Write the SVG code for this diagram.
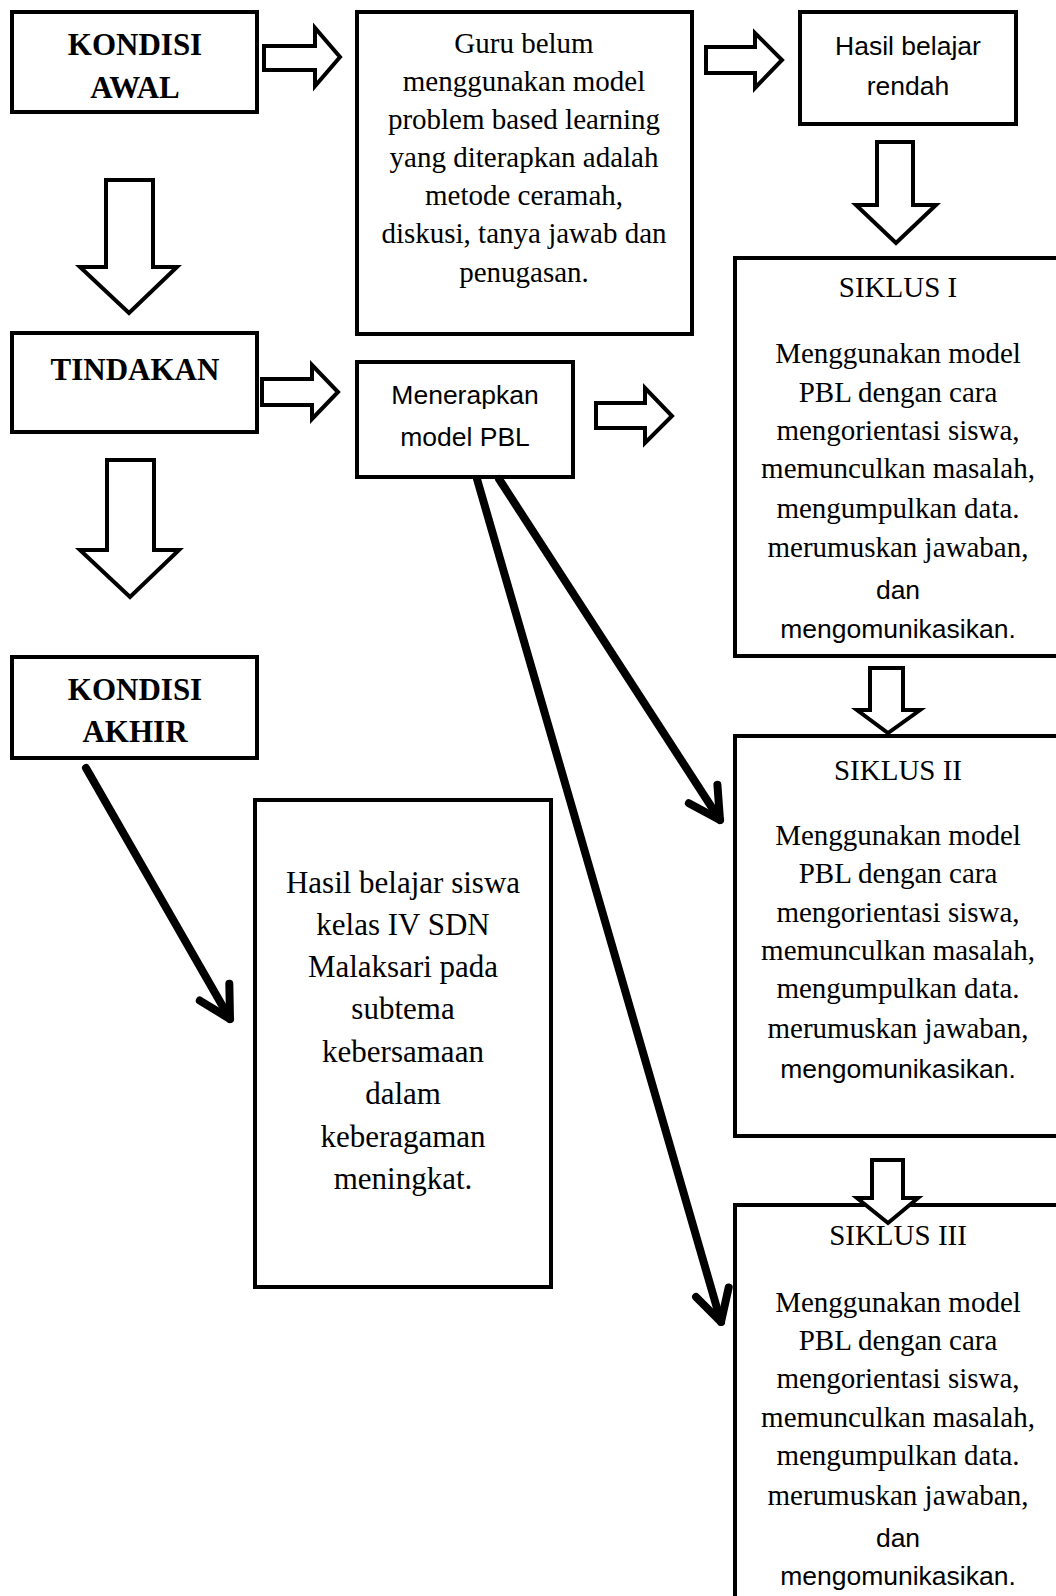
<svg xmlns="http://www.w3.org/2000/svg" width="1056" height="1596" viewBox="0 0 1056 1596">
<style>
.box{fill:#fff;stroke:#000;stroke-width:4}
.blk{fill:#fff;stroke:#000;stroke-width:4;stroke-linejoin:miter}
.ln{fill:none;stroke:#000;stroke-width:8;stroke-linecap:round}
.tb{font-family:"Liberation Serif","Times New Roman",serif;font-weight:bold;font-size:31px;text-anchor:middle;fill:#000}
.t{font-family:"Liberation Serif","Times New Roman",serif;font-size:29px;text-anchor:middle;fill:#000}
.t30{font-family:"Liberation Serif","Times New Roman",serif;font-size:31px;text-anchor:middle;fill:#000}
.s{font-family:"Liberation Sans",Arial,sans-serif;font-size:26.5px;text-anchor:middle;fill:#000}
</style>
<defs>
<marker id="chev" markerUnits="userSpaceOnUse" markerWidth="60" markerHeight="60" refX="0" refY="0" orient="auto" overflow="visible">
<path d="M-31,-17 L0,0 L-31,17" fill="none" stroke="#000" stroke-width="8" stroke-linecap="round" stroke-linejoin="round"/>
</marker>
</defs>
<rect width="1056" height="1596" fill="#fff"/>

<g id="kondisi-awal">
<rect class="box" x="12" y="12" width="245" height="100"/>
<text class="tb" x="135" y="55">KONDISI</text>
<text class="tb" x="135" y="98">AWAL</text>
</g>

<g id="guru">
<rect class="box" x="357" y="12" width="335" height="322"/>
<text class="t" x="524" y="53">Guru belum</text>
<text class="t" x="524" y="91">menggunakan model</text>
<text class="t" x="524" y="129">problem based learning</text>
<text class="t" x="524" y="167">yang diterapkan adalah</text>
<text class="t" x="524" y="205">metode ceramah,</text>
<text class="t" x="524" y="243">diskusi, tanya jawab dan</text>
<text class="t" x="524" y="282">penugasan.</text>
</g>

<g id="hasil-rendah">
<rect class="box" x="800" y="12" width="216" height="112"/>
<text class="s" x="908" y="55">Hasil belajar</text>
<text class="s" x="908" y="95">rendah</text>
</g>

<g id="siklus-1">
<rect class="box" x="735" y="258" width="330" height="398"/>
<text class="t" x="898" y="297">SIKLUS I</text>
<text class="t" x="898" y="363">Menggunakan model</text>
<text class="t" x="898" y="402">PBL dengan cara</text>
<text class="t" x="898" y="440">mengorientasi siswa,</text>
<text class="t" x="898" y="478">memunculkan masalah,</text>
<text class="t" x="898" y="518">mengumpulkan data.</text>
<text class="t" x="898" y="557">merumuskan jawaban,</text>
<text class="s" x="898" y="599">dan</text>
<text class="s" x="898" y="638">mengomunikasikan.</text>
</g>

<g id="tindakan">
<rect class="box" x="12" y="333" width="245" height="99"/>
<text class="tb" x="135" y="380">TINDAKAN</text>
</g>

<g id="menerapkan">
<rect class="box" x="357" y="362" width="216" height="115"/>
<text class="s" x="465" y="404">Menerapkan</text>
<text class="s" x="465" y="446">model PBL</text>
</g>

<g id="kondisi-akhir">
<rect class="box" x="12" y="657" width="245" height="101"/>
<text class="tb" x="135" y="700">KONDISI</text>
<text class="tb" x="135" y="742">AKHIR</text>
</g>

<g id="hasil-siswa">
<rect class="box" x="255" y="800" width="296" height="487"/>
<text class="t30" x="403" y="893">Hasil belajar siswa</text>
<text class="t30" x="403" y="935">kelas IV SDN</text>
<text class="t30" x="403" y="977">Malaksari pada</text>
<text class="t30" x="403" y="1019">subtema</text>
<text class="t30" x="403" y="1062">kebersamaan</text>
<text class="t30" x="403" y="1104">dalam</text>
<text class="t30" x="403" y="1147">keberagaman</text>
<text class="t30" x="403" y="1189">meningkat.</text>
</g>

<g id="siklus-2">
<rect class="box" x="735" y="736" width="330" height="400"/>
<text class="t" x="898" y="780">SIKLUS II</text>
<text class="t" x="898" y="845">Menggunakan model</text>
<text class="t" x="898" y="883">PBL dengan cara</text>
<text class="t" x="898" y="922">mengorientasi siswa,</text>
<text class="t" x="898" y="960">memunculkan masalah,</text>
<text class="t" x="898" y="998">mengumpulkan data.</text>
<text class="t" x="898" y="1038">merumuskan jawaban,</text>
<text class="s" x="898" y="1078">mengomunikasikan.</text>
</g>

<g id="siklus-3">
<rect class="box" x="735" y="1205" width="330" height="400"/>
<text class="t" x="898" y="1245">SIKLUS III</text>
<text class="t" x="898" y="1312">Menggunakan model</text>
<text class="t" x="898" y="1350">PBL dengan cara</text>
<text class="t" x="898" y="1388">mengorientasi siswa,</text>
<text class="t" x="898" y="1427">memunculkan masalah,</text>
<text class="t" x="898" y="1465">mengumpulkan data.</text>
<text class="t" x="898" y="1505">merumuskan jawaban,</text>
<text class="s" x="898" y="1547">dan</text>
<text class="s" x="898" y="1585">mengomunikasikan.</text>
</g>

<g id="connectors">
<polygon class="blk" points="264,46 315,46 315,28 340,57 315,86 315,70 264,70"/>
<polygon class="blk" points="706,47 755,47 755,33 782,60 755,88 755,73 706,73"/>
<polygon class="blk" points="262,379 312,379 312,365 338,392 312,419 312,405 262,405"/>
<polygon class="blk" points="596,403 645,403 645,388 672,416 645,443 645,428 596,428"/>
<polygon class="blk" points="106,180 153,180 153,267 177,267 129,313 80,267 106,267"/>
<polygon class="blk" points="107,460 154,460 154,550 179,550 130,597 80,550 107,550"/>
<polygon class="blk" points="877,142 913,142 913,205 936,205 896,243 856,205 877,205"/>
<polygon class="blk" points="870,668 903,668 903,710 920,710 888,733 857,710 870,710"/>
<polygon class="blk" points="872,1160 903,1160 903,1198 918,1198 888,1223 857,1198 872,1198"/>
<line class="ln" x1="86" y1="768" x2="230" y2="1019" marker-end="url(#chev)"/>
<line class="ln" x1="499" y1="479" x2="720" y2="820" marker-end="url(#chev)"/>
<line class="ln" x1="477" y1="479" x2="721" y2="1322" marker-end="url(#chev)"/>
</g>
</svg>
